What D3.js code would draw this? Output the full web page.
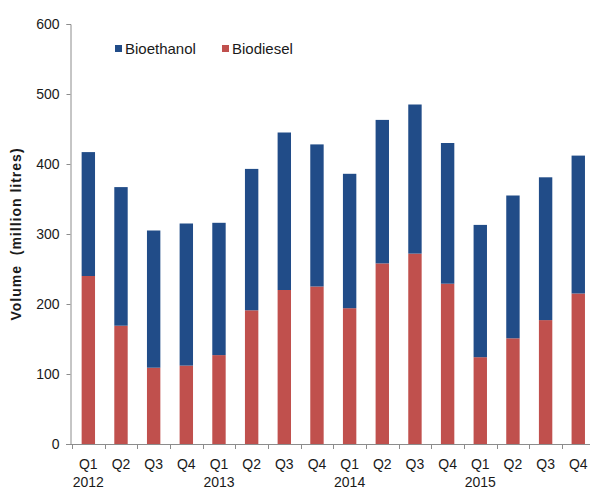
<!DOCTYPE html>
<html>
<head>
<meta charset="utf-8">
<script src="https://cdn.jsdelivr.net/npm/d3@7"></script>
<style>
  body { margin: 0; background: #fff; }
  svg { display: block; font-family: "Liberation Sans", Arial, sans-serif; }
</style>
</head>
<body>
<div id="chart"></div>
<script>
// quarter labels and year labels (year shown under each Q1)
var quarters = ["Q1", "Q2", "Q3", "Q4", "Q1", "Q2", "Q3", "Q4",
                "Q1", "Q2", "Q3", "Q4", "Q1", "Q2", "Q3", "Q4"];
var years = ["2012", "", "", "", "2013", "", "", "", "2014", "", "", "", "2015", "", "", ""];

// volumes in million litres
var biodiesel = [240, 169, 109, 112, 127, 191, 220, 225, 194, 258, 272, 229, 124, 151, 177, 215];
var bioethanol = [177, 198, 196, 203, 189, 202, 225, 203, 192, 205, 213, 201, 189, 204, 204, 197];

var yTicks = [0, 100, 200, 300, 400, 500, 600];

var width = 590, height = 491;
var svg = d3.select("#chart").append("svg")
    .attr("width", width)
    .attr("height", height);

// build table for the stack
var rows = quarters.map(function(q, i) {
    return { idx: i, Biodiesel: biodiesel[i], Bioethanol: bioethanol[i] };
});
var series = d3.stack().keys(["Biodiesel", "Bioethanol"])(rows);
var colors = { Biodiesel: "#c0504d", Bioethanol: "#214c88" };

var x = d3.scaleBand()
    .domain(d3.range(quarters.length))
    .range([72, 594.6])
    .paddingInner(0.59)
    .paddingOuter(0.295);

var y = d3.scaleLinear()
    .domain([0, 600])
    .range([444, 24]);

// bars
svg.selectAll("g.series")
    .data(series)
    .enter()
    .append("g")
    .attr("class", "series")
    .attr("fill", function(d) { return colors[d.key]; })
    .selectAll("rect")
    .data(function(d) { return d; })
    .enter()
    .append("rect")
    .attr("x", function(d) { return x(d.data.idx); })
    .attr("width", x.bandwidth())
    .attr("y", function(d) { return y(d[1]); })
    .attr("height", function(d) { return y(d[0]) - y(d[1]); });

// y axis
var yAxis = d3.axisLeft(y)
    .tickValues(yTicks)
    .tickSize(4)
    .tickPadding(7);
var yg = svg.append("g")
    .attr("transform", "translate(70.5,0)")
    .call(yAxis);
yg.select(".domain").attr("stroke", "#8c8c8c");
yg.selectAll(".tick line").attr("stroke", "#8c8c8c");
yg.selectAll(".tick text")
    .attr("font-size", "14px")
    .attr("font-family", "Liberation Sans, Arial, sans-serif")
    .attr("fill", "#1a1a1a");

// x axis line
var step = x.step();
svg.append("line")
    .attr("x1", 66)
    .attr("x2", width)
    .attr("y1", y(0) + 0.5)
    .attr("y2", y(0) + 0.5)
    .attr("stroke", "#8c8c8c");

// category boundary ticks
svg.selectAll(".xTick")
    .data(d3.range(quarters.length + 1))
    .enter()
    .append("line")
    .attr("class", "xTick")
    .attr("x1", function(i) { return Math.round(72 + i * step) + 0.5; })
    .attr("x2", function(i) { return Math.round(72 + i * step) + 0.5; })
    .attr("y1", y(0))
    .attr("y2", y(0) + 5)
    .attr("stroke", "#8c8c8c");

// quarter labels
svg.selectAll(".qLabel")
    .data(quarters)
    .enter()
    .append("text")
    .attr("class", "qLabel")
    .attr("x", function(d, i) { return x(i) + x.bandwidth() / 2; })
    .attr("y", 469)
    .attr("text-anchor", "middle")
    .attr("font-size", "14px")
    .attr("fill", "#1a1a1a")
    .text(function(d) { return d; });

// year labels
svg.selectAll(".yrLabel")
    .data(years)
    .enter()
    .append("text")
    .attr("class", "yrLabel")
    .attr("x", function(d, i) { return x(i) + x.bandwidth() / 2; })
    .attr("y", 487)
    .attr("text-anchor", "middle")
    .attr("font-size", "14px")
    .attr("fill", "#1a1a1a")
    .text(function(d) { return d; });

// y axis title
svg.append("text")
    .attr("transform", "translate(21,234) rotate(-90)")
    .attr("text-anchor", "middle")
    .attr("font-size", "14px")
    .attr("font-weight", "bold")
    .attr("letter-spacing", "1px")
    .attr("fill", "#1a1a1a")
    .style("white-space", "pre")
    .text("Volume  (million litres)");

// legend
var legendItems = [
    { key: "Bioethanol", x: 115 },
    { key: "Biodiesel", x: 222 }
];
var lg = svg.selectAll(".legend")
    .data(legendItems)
    .enter()
    .append("g")
    .attr("class", "legend")
    .attr("transform", function(d) { return "translate(" + d.x + ",49)"; });
lg.append("rect")
    .attr("x", 0)
    .attr("y", -4)
    .attr("width", 7)
    .attr("height", 7)
    .attr("fill", function(d) { return colors[d.key]; });
lg.append("text")
    .attr("x", 10)
    .attr("y", 5)
    .attr("font-size", "15px")
    .attr("fill", "#1a1a1a")
    .text(function(d) { return d.key; });
</script>
</body>
</html>
